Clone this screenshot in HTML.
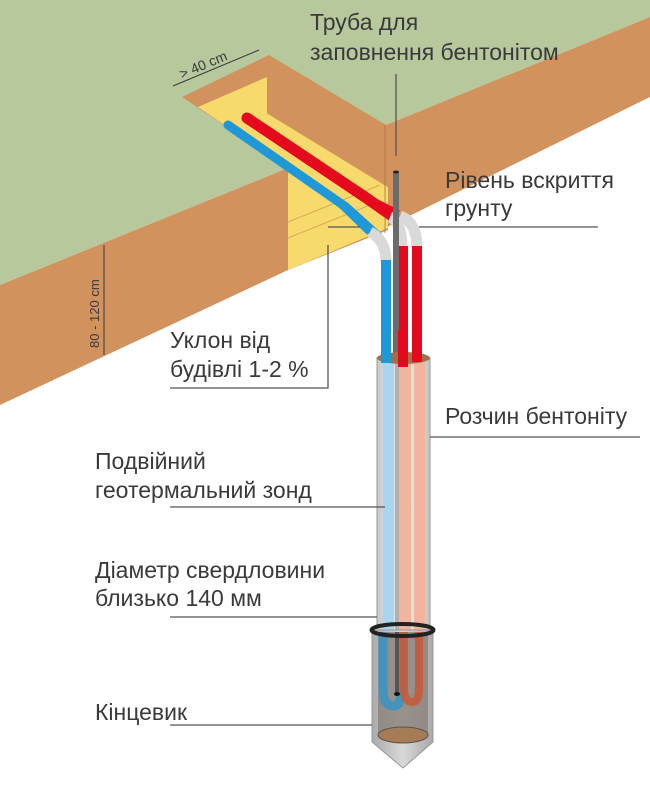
<!DOCTYPE html>
<html><head><meta charset="utf-8"><style>
html,body{margin:0;padding:0;background:#fff}
svg{display:block}
text{font-family:"Liberation Sans",Arial,sans-serif;fill:#3a3a3a;font-size:23px}
</style></head><body>
<svg width="650" height="804" viewBox="0 0 650 804" xmlns="http://www.w3.org/2000/svg">
<defs>
<linearGradient id="bh" x1="0" x2="1">
<stop offset="0" stop-color="#c9c9c9"/><stop offset="0.5" stop-color="#eeeeee"/><stop offset="1" stop-color="#c4c4c4"/>
</linearGradient>
<linearGradient id="low" x1="0" x2="1">
<stop offset="0" stop-color="#aaa"/><stop offset="0.5" stop-color="#d8d8d8"/><stop offset="1" stop-color="#a8a8a8"/>
</linearGradient>
</defs>
<polygon points="0,0 650,0 650,17 386,125 288,168 0,285" fill="#b6c89c"/>
<polygon points="386,125 650,17 650,97 375,233" fill="#d2925e"/>
<polygon points="182,97 269,55 386,125 388,230 288,270 288,168" fill="#d2925e"/>
<polygon points="198,107 267,77 267,113 388,187 388,228 288,270 288,168" fill="#f8d96c"/>
<line x1="267" y1="113" x2="388" y2="187" stroke="#c8a450" stroke-width="0.8"/>
<line x1="288" y1="222" x2="380" y2="185" stroke="#c8a450" stroke-width="0.8"/>
<line x1="288" y1="238" x2="370" y2="205" stroke="#c8a450" stroke-width="0.8"/>
<line x1="385" y1="125" x2="385" y2="233" stroke="#a8743f" stroke-width="0.8"/>
<polygon points="0,285 288,168 288,270 0,405" fill="#d2925e"/>

<path d="M228,125 L346,207 L378,236" stroke="#1f98d8" stroke-width="9" fill="none" stroke-linecap="round"/>
<path d="M340,203 L370,232" stroke="#1f98d8" stroke-width="8" fill="none"/>
<path d="M247,118 L365,197 L392,216" stroke="#e4091c" stroke-width="11" fill="none" stroke-linecap="round"/>
<path d="M360,195 L398,214" stroke="#e4091c" stroke-width="8" fill="none"/>
<path d="M370,232 Q386,240 386,262" stroke="#d9d9d9" stroke-width="11" fill="none"/>
<path d="M390,217 Q402,222 402,248" stroke="#d9d9d9" stroke-width="11" fill="none"/>
<path d="M400,216 Q417,222 417,248" stroke="#d9d9d9" stroke-width="11" fill="none"/>
<rect x="381" y="260" width="10" height="103" fill="#1f98d8"/>
<rect x="398" y="246" width="10" height="120" fill="#e4091c"/>
<rect x="412" y="246" width="10" height="115" fill="#e4091c"/>
<rect x="393" y="172" width="6" height="196" fill="#6b6b6b"/>
<ellipse cx="396" cy="172" rx="3" ry="1.5" fill="#222"/>

<rect x="377" y="358" width="53" height="272" fill="url(#bh)" stroke="#9a9a9a" stroke-width="1"/>
<rect x="383" y="362" width="11" height="268" fill="#a9d6ef"/>
<rect x="399" y="362" width="12" height="268" fill="#f0b59c"/>
<rect x="414" y="362" width="11" height="268" fill="#f0b59c"/>
<rect x="395" y="362" width="4" height="268" fill="#b0b0b0"/>
<ellipse cx="403.5" cy="358" rx="26.5" ry="6" fill="#a07048"/>
<rect x="381" y="330" width="10" height="33" fill="#1f98d8"/>
<rect x="398" y="330" width="10" height="37" fill="#e4091c"/>
<rect x="412" y="330" width="10" height="32" fill="#e4091c"/>
<path d="M372,630 L433,630 L433,742 L403,768 L372,742 Z" fill="url(#low)" stroke="#999" stroke-width="1"/>
<rect x="378" y="632" width="50" height="104" fill="#8a8079" opacity="0.8"/>
<path d="M383,632 V690 Q383,706 394,706 Q401,706 401,690 V632" fill="none" stroke="#3a94c4" stroke-width="9" opacity="0.9"/>
<path d="M404,632 V688 Q404,702 412,702 Q419,702 419,688 V632" fill="none" stroke="#c85a3a" stroke-width="8" opacity="0.9"/>
<rect x="395" y="632" width="4" height="62" fill="#555"/>
<ellipse cx="397" cy="694" rx="3" ry="2" fill="#111"/>
<ellipse cx="403" cy="735" rx="25" ry="8" fill="#a57c55" stroke="#555" stroke-width="1"/>
<ellipse cx="402.5" cy="630" rx="31" ry="6" fill="none" stroke="#222" stroke-width="4"/>

<g stroke="#555" stroke-width="1.3" fill="none">
<line x1="396" y1="74" x2="396" y2="156"/>
<line x1="419" y1="227" x2="598" y2="227"/>
<line x1="328" y1="227" x2="360" y2="227"/>
<polyline points="328,245 328,388 170,388"/>
<line x1="430" y1="437" x2="640" y2="437"/>
<line x1="170" y1="507" x2="385" y2="507"/>
<line x1="170" y1="617" x2="377" y2="617"/>
<line x1="170" y1="725" x2="372" y2="725"/>
</g>
<line x1="104" y1="245" x2="104" y2="355" stroke="#3a3a3a" stroke-width="1"/>
<line x1="173" y1="86" x2="259" y2="50" stroke="#3a3a3a" stroke-width="1"/>

<text x="310" y="30">Труба для</text>
<text x="310" y="60">заповнення бентонітом</text>
<text x="445" y="188">Рівень вскриття</text>
<text x="445" y="216">грунту</text>
<text x="170" y="348">Уклон від</text>
<text x="170" y="377">будівлі 1-2 %</text>
<text x="445" y="424">Розчин бентоніту</text>
<text x="95" y="469">Подвійний</text>
<text x="95" y="498">геотермальний зонд</text>
<text x="95" y="578">Діаметр свердловини</text>
<text x="95" y="606">близько 140 мм</text>
<text x="95" y="720">Кінцевик</text>
<text x="0" y="0" style="font-size:14px" transform="translate(182,79) rotate(-23)">&gt; 40 cm</text>
<text x="0" y="0" style="font-size:13px" transform="translate(99,348) rotate(-90)">80 - 120 cm</text>
</svg>
</body></html>
